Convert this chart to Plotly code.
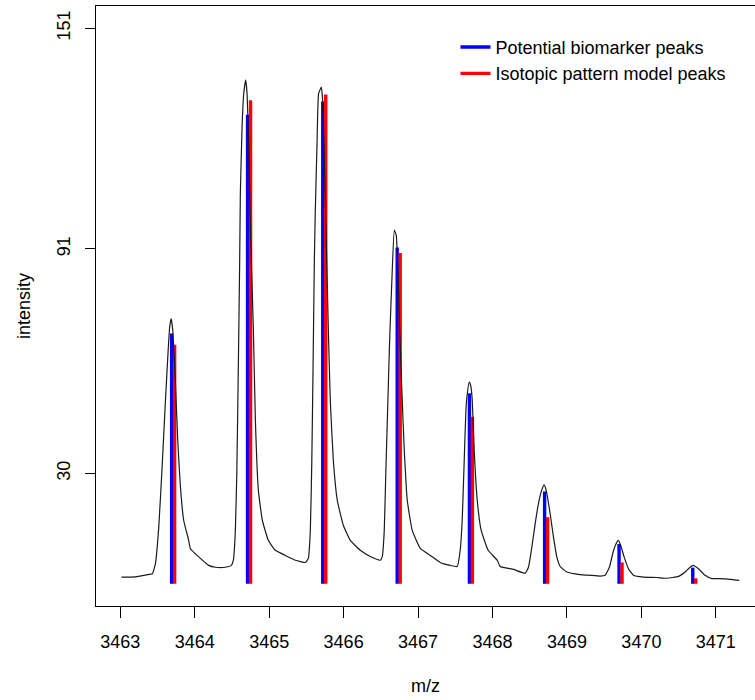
import plotly.graph_objects as go

# Raw spectrum trace (m/z, intensity)
spectrum_mz = [
    3463.016, 3463.204, 3463.405, 3463.432, 3463.472, 3463.517, 3463.562, 3463.607,
    3463.643, 3463.664, 3463.683, 3463.705, 3463.741, 3463.772, 3463.808, 3463.852,
    3463.919, 3463.942, 3464.054, 3464.188, 3464.278, 3464.412, 3464.493, 3464.519,
    3464.546, 3464.566, 3464.587, 3464.604, 3464.613, 3464.636, 3464.658, 3464.685,
    3464.703, 3464.725, 3464.748, 3464.761, 3464.788, 3464.815, 3464.855, 3464.909,
    3464.989, 3465.083, 3465.217, 3465.352, 3465.486, 3465.526, 3465.553, 3465.573,
    3465.589, 3465.607, 3465.620, 3465.643, 3465.664, 3465.701, 3465.718, 3465.741,
    3465.768, 3465.795, 3465.821, 3465.862, 3465.915, 3465.996, 3466.090, 3466.224,
    3466.358, 3466.493, 3466.519, 3466.546, 3466.566, 3466.591, 3466.617, 3466.650,
    3466.681, 3466.707, 3466.725, 3466.752, 3466.784, 3466.815, 3466.855, 3466.922,
    3467.030, 3467.164, 3467.298, 3467.432, 3467.526, 3467.566, 3467.593, 3467.620,
    3467.643, 3467.656, 3467.687, 3467.707, 3467.728, 3467.754, 3467.795, 3467.848,
    3467.942, 3468.063, 3468.103, 3468.282, 3468.439, 3468.483, 3468.529, 3468.573,
    3468.617, 3468.663, 3468.694, 3468.721, 3468.774, 3468.819, 3468.864, 3468.909,
    3468.999, 3469.177, 3469.311, 3469.446, 3469.513, 3469.570, 3469.624, 3469.670,
    3469.691, 3469.723, 3469.768, 3469.826, 3469.893, 3470.027, 3470.207, 3470.341,
    3470.497, 3470.587, 3470.654, 3470.698, 3470.765, 3470.855, 3470.945, 3471.056,
    3471.191, 3471.315,
]
spectrum_int = [
    1.8, 1.9, 2.6, 2.7, 5.5, 15.4, 31.7, 49.9,
    63.4, 69.8, 72.1, 68.9, 54.5, 39.0, 26.3, 17.2,
    11.8, 9.5, 7.3, 5.0, 4.5, 4.5, 5.0, 6.4,
    14.5, 30.8, 60.7, 87.9, 106.0, 124.1, 133.2, 137.0,
    133.3, 119.7, 97.0, 87.9, 68.9, 44.4, 25.4, 17.2,
    11.8, 9.1, 7.7, 6.4, 5.8, 6.9, 14.5, 33.5,
    58.0, 87.9, 101.5, 119.7, 133.2, 135.0, 131.4, 115.1,
    92.4, 68.9, 49.9, 33.5, 22.7, 15.9, 11.8, 9.1,
    7.4, 6.4, 7.4, 14.5, 29.5, 47.1, 65.3, 83.4,
    96.1, 94.7, 87.9, 69.8, 51.7, 36.3, 22.7, 14.5,
    9.6, 7.7, 5.8, 5.0, 4.7, 9.1, 17.2, 33.5,
    47.1, 50.7, 54.8, 53.9, 49.9, 36.3, 22.7, 14.5,
    9.1, 6.4, 4.7, 3.9, 2.9, 4.5, 10.0, 16.3,
    21.8, 25.6, 26.9, 25.4, 19.1, 12.7, 7.3, 4.7,
    3.2, 2.5, 2.3, 2.1, 2.3, 4.5, 8.9, 11.3,
    11.8, 10.4, 7.3, 4.1, 2.3, 1.8, 1.7, 1.5,
    2.0, 3.2, 4.5, 5.0, 4.1, 2.3, 1.4, 1.4,
    1.2, 0.9,
]

# Detected biomarker peaks
biomarker_mz = [3463.69, 3464.71, 3465.72, 3466.72, 3467.69, 3468.70, 3469.70, 3470.69]
biomarker_int = [68.0, 127.5, 131.1, 91.4, 51.8, 25.1, 10.8, 4.4]

# Isotopic pattern model peaks
model_mz = [3463.73, 3464.75, 3465.76, 3466.76, 3467.73, 3468.74, 3469.74, 3470.73]
model_int = [65.0, 131.4, 133.0, 89.9, 45.4, 18.1, 5.8, 1.5]

# Axis ticks
x_ticks = [3463, 3464, 3465, 3466, 3467, 3468, 3469, 3470, 3471]
y_ticks = [30, 91, 151]


def stick_coords(xs, ys):
    """Vertical sticks from zero to each peak height, separated by gaps."""
    sx, sy = [], []
    for x, y in zip(xs, ys):
        sx += [x, x, None]
        sy += [0, y, None]
    return sx, sy


FONT = "Liberation Sans, Arial, sans-serif"

fig = go.Figure()

bx, by = stick_coords(biomarker_mz, biomarker_int)
fig.add_trace(go.Scatter(
    x=bx, y=by, mode="lines", name="Potential biomarker peaks",
    line=dict(color="#0000ff", width=3.4),
))
mx, my = stick_coords(model_mz, model_int)
fig.add_trace(go.Scatter(
    x=mx, y=my, mode="lines", name="Isotopic pattern model peaks",
    line=dict(color="#ff0000", width=3.4),
))
fig.add_trace(go.Scatter(
    x=spectrum_mz, y=spectrum_int, mode="lines", showlegend=False,
    line=dict(color="#1a1a1a", width=1.2, shape="spline", smoothing=0.4),
))

fig.update_layout(
    width=755, height=700,
    margin=dict(l=96, r=0, t=6, b=94),
    paper_bgcolor="white", plot_bgcolor="white",
    font=dict(family=FONT, size=18, color="#000000"),
    showlegend=True,
    legend=dict(
        x=0.5455, y=0.962, xanchor="left", yanchor="top",
        bgcolor="rgba(0,0,0,0)", borderwidth=0,
        font=dict(family=FONT, size=18, color="#000000"),
        tracegroupgap=0,
    ),
    xaxis=dict(
        range=[3462.674, 3471.526],
        tickmode="array", tickvals=x_ticks, ticktext=[str(v) for v in x_ticks],
        ticks="outside", ticklen=11, tickwidth=1.3, tickcolor="#000000",
        showline=True, linecolor="#000000", linewidth=1.3, mirror=True,
        showgrid=False, zeroline=False,
        ticklabelstandoff=8,
        title=dict(text="m/z", standoff=28, font=dict(family=FONT, size=18)),
    ),
    yaxis=dict(
        range=[-6.04, 157.04],
        tickmode="array", tickvals=y_ticks, ticktext=[str(v) for v in y_ticks],
        tickangle=-90,
        ticks="outside", ticklen=10, tickwidth=1.3, tickcolor="#000000",
        showline=True, linecolor="#000000", linewidth=1.3, mirror=False,
        showgrid=False, zeroline=False,
        ticklabelstandoff=8,
        title=dict(text="intensity", standoff=18, font=dict(family=FONT, size=18)),
    ),
)

fig.write_html("out.html")
